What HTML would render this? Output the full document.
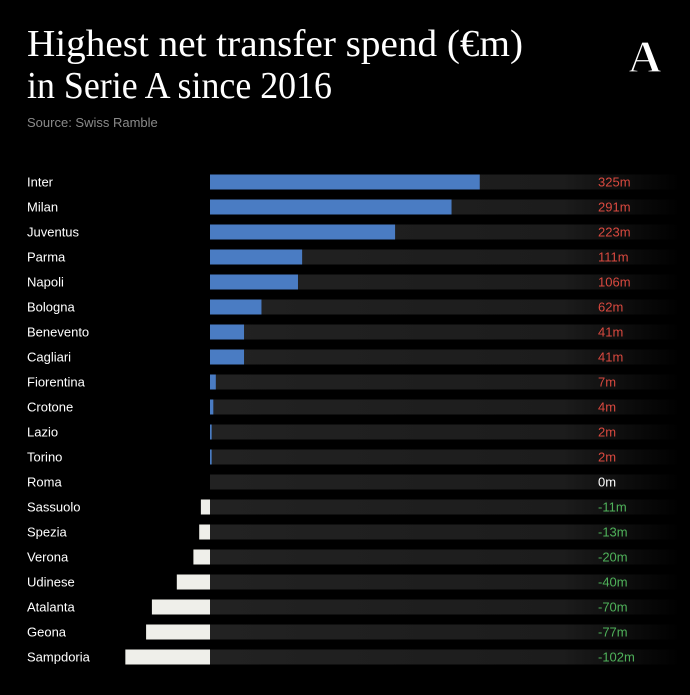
<!DOCTYPE html>
<html><head><meta charset="utf-8"><style>
body{margin:0;background:#000;width:690px;height:690px;overflow:hidden;font-family:"Liberation Sans",sans-serif}
</style></head><body>
<svg id="chart" width="690" height="690" xmlns="http://www.w3.org/2000/svg">
<defs><linearGradient id="trk" x1="0" x2="1"><stop offset="0" stop-color="#222"/><stop offset="0.75" stop-color="#1c1c1c"/><stop offset="1" stop-color="#000"/></linearGradient></defs>
<rect width="690" height="690" fill="#000"/>
<text x="27" y="56" fill="#fff" font-family="Liberation Serif, serif" font-size="38" textLength="496" lengthAdjust="spacingAndGlyphs">Highest net transfer spend (€m)</text>
<text x="27" y="98" fill="#fff" font-family="Liberation Serif, serif" font-size="38" textLength="305" lengthAdjust="spacingAndGlyphs">in Serie A since 2016</text>
<text x="27" y="127" fill="#8a8a8a" font-size="13">Source: Swiss Ramble</text>
<g>
<text x="645" y="72" text-anchor="middle" fill="#fff" stroke="#000" stroke-width="1.2" font-family="Liberation Serif, serif" font-weight="bold" font-size="46">A</text>
</g>
<g id="rows"></g>
</svg>
<script>
const teams=["Inter","Milan","Juventus","Parma","Napoli","Bologna","Benevento","Cagliari","Fiorentina","Crotone","Lazio","Torino","Roma","Sassuolo","Spezia","Verona","Udinese","Atalanta","Geona","Sampdoria"];
const values=[325,291,223,111,106,62,41,41,7,4,2,2,0,-11,-13,-20,-40,-70,-77,-102];
const X0=210, K=0.83, ROW0=182, STEP=25, BH=15;
const xs=v=>X0+v*K;
const g=document.getElementById('rows');
const NS="http://www.w3.org/2000/svg";
function mk(t,a){const e=document.createElementNS(NS,t);for(const n in a)e.setAttribute(n,a[n]);g.appendChild(e);return e;}
teams.forEach((t,i)=>{
  const y=ROW0+i*STEP, v=values[i];
  const tr=mk('rect',{x:X0,y:y-BH/2,width:470,height:BH,fill:'url(#trk)'});
  
  
  const lb=mk('text',{x:27,y:y+4.5,fill:'#fff','font-size':13});
  lb.textContent=t;
  
  
  if(v!==0){
    const b=mk('rect',{x:Math.min(xs(v),X0),y:y-BH/2,width:Math.max(Math.abs(xs(v)-X0),1.5),height:BH,fill:v>0?'#4a7cc3':'#efefea'});
    
    
  }
  const vl=mk('text',{x:598,y:y+4.5,fill:v>0?'#d9493f':(v<0?'#4fb25a':'#fff'),'font-size':13});
  vl.textContent=v+'m';
  
  
});
</script>
</body></html>
